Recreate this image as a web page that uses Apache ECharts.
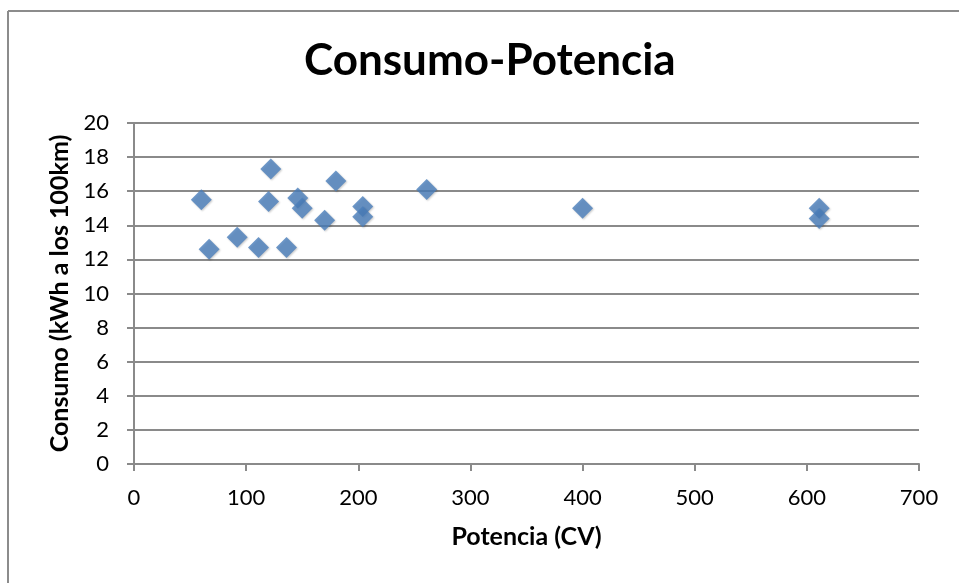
<!DOCTYPE html>
<html>
<head>
<meta charset="utf-8">
<title>Consumo-Potencia</title>
<script src="https://cdn.jsdelivr.net/npm/echarts@6/dist/echarts.min.js"></script>
<style>
  html, body { margin: 0; padding: 0; background: #ffffff; }
  #chart { width: 959px; height: 583px; }
</style>
</head>
<body>
<div id="chart"></div>
<script>
// Potencia (CV) of each model
const potencia = [60, 67, 92, 111, 120, 122, 136, 146, 150, 170, 180, 204, 204, 261, 400, 611, 611];
// Consumo (kWh a los 100km) of each model
const consumo = [15.5, 12.6, 13.3, 12.7, 15.4, 17.3, 12.7, 15.6, 15.0, 14.3, 16.6, 15.1, 14.5, 16.1, 15.0, 15.0, 14.4];

const chartTitle = 'Consumo-Potencia';
const xTitle = 'Potencia (CV)';
const yTitle = 'Consumo (kWh a los 100km)';

const points = potencia.map((p, i) => [p, consumo[i]]);

const FONT = 'Lato, "Open Sans", sans-serif';
const GRID_GRAY = '#8a8a8a';

const chart = echarts.init(document.getElementById('chart'), null, { renderer: 'canvas' });

chart.setOption({
  backgroundColor: '#ffffff',
  animation: false,
  title: {
    text: chartTitle,
    left: 299,
    top: 34,
    textStyle: { fontFamily: FONT, fontWeight: 'bold', fontSize: 44, color: '#000000' }
  },
  graphic: [
    // outer chart frame (left and top edges visible)
    { type: 'line', shape: { x1: 8, y1: 11, x2: 8, y2: 583 }, style: { stroke: '#8c8c8c', lineWidth: 2 } },
    { type: 'line', shape: { x1: 8, y1: 11, x2: 959, y2: 11 }, style: { stroke: '#8c8c8c', lineWidth: 2 } }
  ],
  grid: { left: 134, top: 123, right: 40, bottom: 119, containLabel: false },
  xAxis: {
    type: 'value',
    min: 0, max: 700, interval: 100,
    name: xTitle,
    nameLocation: 'middle',
    nameGap: 60,
    nameTextStyle: { fontFamily: FONT, fontWeight: 'bold', fontSize: 25, color: '#000000' },
    axisLine: { show: true, lineStyle: { color: GRID_GRAY, width: 2 } },
    axisTick: { show: true, length: 7, inside: false, lineStyle: { color: GRID_GRAY, width: 2 } },
    axisLabel: { fontFamily: FONT, fontSize: 22, color: '#000000', margin: 23 },
    splitLine: { show: false }
  },
  yAxis: {
    type: 'value',
    min: 0, max: 20, interval: 2,
    name: yTitle,
    nameLocation: 'middle',
    nameRotate: 90,
    nameGap: 58,
    nameTextStyle: { fontFamily: FONT, fontWeight: 'bold', fontSize: 25, color: '#000000' },
    axisLine: { show: true, lineStyle: { color: GRID_GRAY, width: 2 } },
    axisTick: { show: true, length: 7, inside: false, lineStyle: { color: GRID_GRAY, width: 2 } },
    axisLabel: { fontFamily: FONT, fontSize: 22, color: '#000000', margin: 25 },
    splitLine: { show: true, lineStyle: { color: GRID_GRAY, width: 2 } }
  },
  series: [{
    type: 'scatter',
    data: points,
    symbol: 'diamond',
    symbolSize: [21, 21],
    itemStyle: {
      color: '#4A7EBB',
      shadowColor: 'rgba(0,0,0,0.25)',
      shadowBlur: 2,
      shadowOffsetX: 1,
      shadowOffsetY: 1
    }
  }]
});
</script>
</body>
</html>
